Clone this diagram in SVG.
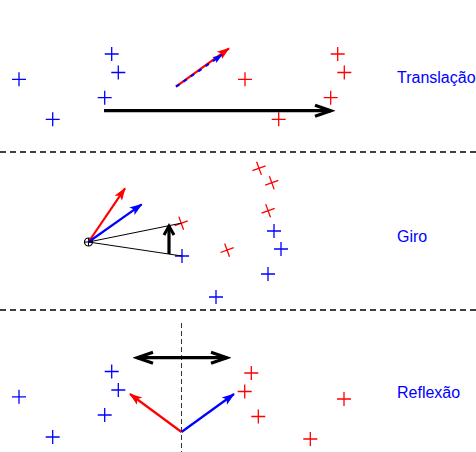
<svg xmlns="http://www.w3.org/2000/svg" xmlns:xlink="http://www.w3.org/1999/xlink" width="476" height="452" viewBox="0 0 476 452">
<style>
.sep{stroke:#000;stroke-width:1.3;stroke-dasharray:6 4;fill:none}
.axis{stroke:#333;stroke-width:1;stroke-dasharray:5 3;fill:none}
.pb{stroke:#0000ff;stroke-width:1.3;fill:none}
.pr{stroke:#ff0000;stroke-width:1.3;fill:none}
.big{stroke:#000;stroke-width:3.2;fill:none}
.thin{stroke:#000;stroke-width:1;fill:none}
.ar{stroke:#ff0000;stroke-width:2.2;fill:none}
.ab{stroke:#0000ff;stroke-width:2.2;fill:none}
.lbl{font-family:"Liberation Sans",Arial,sans-serif;font-size:16px;fill:#0000ff}
</style>
<defs>
<path id="plus" d="M-7,0H7M0,-7V7"/>
<marker id="hr" markerUnits="userSpaceOnUse" viewBox="-14 -6 16 12" markerWidth="16" markerHeight="12" refX="0" refY="0" orient="auto"><path d="M1,0 L-12,-4.5 L-9,0 L-12,4.5 Z" fill="#ff0000"/></marker>
<marker id="hb" markerUnits="userSpaceOnUse" viewBox="-14 -6 16 12" markerWidth="16" markerHeight="12" refX="0" refY="0" orient="auto"><path d="M1,0 L-12,-4.5 L-9,0 L-12,4.5 Z" fill="#0000ff"/></marker>
<marker id="hbs" markerUnits="userSpaceOnUse" viewBox="-14 -6 16 12" markerWidth="16" markerHeight="12" refX="0" refY="0" orient="auto"><path d="M1,0 L-9,-3.5 L-7,0 L-9,3.5 Z" fill="#0000ff"/></marker>
<marker id="hk" markerUnits="userSpaceOnUse" viewBox="-20 -9 24 18" markerWidth="24" markerHeight="18" refX="0" refY="0" orient="auto-start-reverse"><path d="M-16,-5.5 L0,0 L-16,5.5" fill="none" stroke="#000" stroke-width="3.2"/></marker>
<marker id="hks" markerUnits="userSpaceOnUse" viewBox="-14 -8 18 16" markerWidth="18" markerHeight="16" refX="0" refY="0" orient="auto"><path d="M-9,-5 L0,0 L-9,5" fill="none" stroke="#000" stroke-width="3"/></marker>
</defs>

<g id="separators">
<line class="sep" x1="0" y1="152" x2="476" y2="152"/>
<line class="sep" x1="0" y1="310" x2="476" y2="310"/>
</g>

<g id="translacao">
<g id="trans-original" class="pb">
<use xlink:href="#plus" x="111.7" y="54"/>
<use xlink:href="#plus" x="118.3" y="72.5"/>
<use xlink:href="#plus" x="104.7" y="97.7"/>
<use xlink:href="#plus" x="19" y="79.3"/>
<use xlink:href="#plus" x="52.7" y="119.3"/>
</g>
<g id="trans-image" class="pr">
<use xlink:href="#plus" x="337.7" y="54"/>
<use xlink:href="#plus" x="344.3" y="72.5"/>
<use xlink:href="#plus" x="330.7" y="97.7"/>
<use xlink:href="#plus" x="245" y="79.3"/>
<use xlink:href="#plus" x="278.7" y="119.3"/>
</g>
<text class="lbl" x="397" y="83">Translação</text>
</g>

<g id="giro">
<g id="giro-center">
<circle cx="88.5" cy="242" r="4" fill="none" stroke="#000" stroke-width="1.2"/>
<path d="M84.5,242H92.5M88.5,238V246" stroke="#000" stroke-width="1"/>
</g>
<g id="giro-original" class="pb">
<use xlink:href="#plus" x="182" y="256"/>
<use xlink:href="#plus" x="274" y="231"/>
<use xlink:href="#plus" x="281" y="249"/>
<use xlink:href="#plus" x="268" y="274"/>
<use xlink:href="#plus" x="216" y="297"/>
</g>
<g id="giro-image" class="pr">
<use xlink:href="#plus" transform="translate(181.2,223.2) rotate(-20)"/>
<use xlink:href="#plus" transform="translate(259,168.3) rotate(-20)"/>
<use xlink:href="#plus" transform="translate(271.8,182.8) rotate(-20)"/>
<use xlink:href="#plus" transform="translate(268.1,210.7) rotate(-20)"/>
<use xlink:href="#plus" transform="translate(227.1,250.1) rotate(-20)"/>
</g>
<text class="lbl" x="397" y="242">Giro</text>
</g>

<g id="reflexao">
<line id="reflexao-axis" class="axis" x1="181.5" y1="323" x2="181.5" y2="452"/>
<g id="refl-original" class="pb">
<use xlink:href="#plus" x="111.7" y="371.5"/>
<use xlink:href="#plus" x="118.3" y="390"/>
<use xlink:href="#plus" x="104.7" y="415"/>
<use xlink:href="#plus" x="19" y="396.8"/>
<use xlink:href="#plus" x="52.7" y="437"/>
</g>
<g id="refl-image" class="pr">
<use xlink:href="#plus" x="251.3" y="373"/>
<use xlink:href="#plus" x="244.7" y="391.5"/>
<use xlink:href="#plus" x="258.3" y="416.5"/>
<use xlink:href="#plus" x="344" y="399"/>
<use xlink:href="#plus" x="310.3" y="439"/>
</g>
<text class="lbl" x="397" y="398">Reflexão</text>
</g>

<g id="connectors">
<line class="big" x1="104" y1="110.7" x2="331" y2="110.7" marker-end="url(#hk)"/>
<line class="ar" x1="176" y1="86.7" x2="229" y2="48.3" marker-end="url(#hr)"/>
<line class="ab" x1="176" y1="86.7" x2="221.7" y2="55" stroke-dasharray="4 5" marker-end="url(#hbs)"/>
<line class="ar" x1="88.5" y1="242" x2="125" y2="188.3" marker-end="url(#hr)"/>
<line class="ab" x1="88.5" y1="242" x2="141.7" y2="204.3" marker-end="url(#hb)"/>
<line class="thin" x1="88.5" y1="242" x2="181.2" y2="223.2"/>
<line class="thin" x1="88.5" y1="242" x2="182" y2="256"/>
<line class="big" x1="169" y1="254" x2="169" y2="226" marker-end="url(#hks)"/>
<line class="big" x1="137" y1="357.7" x2="227" y2="357.7" marker-start="url(#hk)" marker-end="url(#hk)"/>
<line class="ar" x1="181.5" y1="432" x2="130" y2="394" marker-end="url(#hr)"/>
<line class="ab" x1="181.5" y1="432" x2="234" y2="394" marker-end="url(#hb)"/>
</g>
</svg>
